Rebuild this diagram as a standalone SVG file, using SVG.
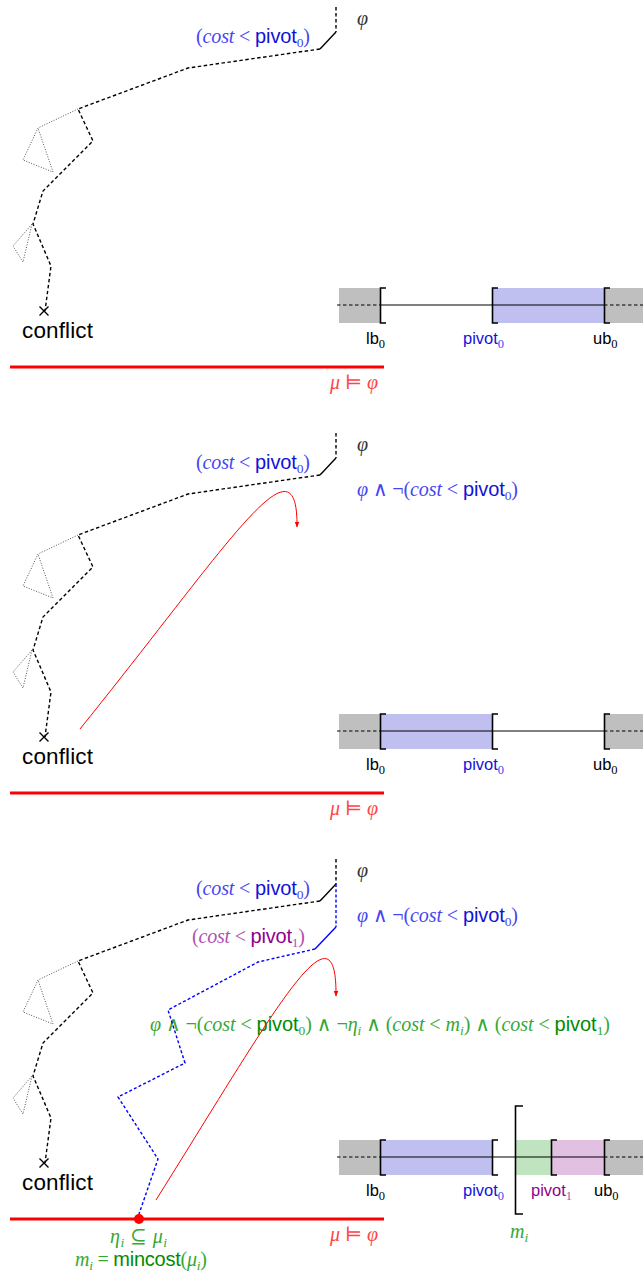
<svg xmlns="http://www.w3.org/2000/svg" xmlns:xlink="http://www.w3.org/1999/xlink" width="643" height="1275" viewBox="0 0 643 1275">
<style>
.dash{fill:none;stroke:#000;stroke-width:1.4;stroke-dasharray:3.5 2.5}
.solid{fill:none;stroke:#000;stroke-width:1.4}
.dot{fill:none;stroke:#555;stroke-width:1;stroke-dasharray:1 1.6}
.bdash{fill:none;stroke:#0000ff;stroke-width:1.4;stroke-dasharray:3 2.2}
.bsolid{fill:none;stroke:#0000ff;stroke-width:1.4}
.redl{stroke:#ff0000;stroke-width:3}
.redc{fill:none;stroke:#ff0000;stroke-width:1}
.br{fill:none;stroke:#000;stroke-width:1.6}
.axd{stroke:#000;stroke-width:1.2;stroke-dasharray:3.5 2.5}
.axs{stroke:#000;stroke-width:1.2}
.m{font-family:"Liberation Serif","DejaVu Serif",serif;font-style:italic}
.r{font-family:"Liberation Serif","DejaVu Serif","DejaVu Sans",serif;font-style:normal}
.s{font-family:"Liberation Sans","DejaVu Sans",sans-serif}
.f{font-size:20px}
.lab{font-size:16.5px}
.sub{font-size:13.5px}
.lsub{font-size:12.5px}
.bm{fill:#4545f2}.bs{fill:#1212d8}
.pm{fill:#b050b0}.ps{fill:#900090}
.gm{fill:#35a835}.gs{fill:#008c00}
.rm{fill:#ff4545}
.phi{fill:#333}
</style>
<defs>
<marker id="ah" viewBox="0 0 10 10" refX="9" refY="5" markerWidth="6" markerHeight="6" markerUnits="userSpaceOnUse" orient="auto">
<path d="M0,1 L10,5 L0,9 z" fill="#ff0000"/>
</marker>
<g id="search">
<path class="dash" d="M336,7 V32"/>
<path class="solid" d="M336,32 L320,49"/>
<path class="dash" d="M320,49 L188,68 L78,109 L93,141 L43,191 L33,224 L51,266 L45,311"/>
<path class="dot" d="M78,109 L38,128 L23,160 L53,172 L38,128"/>
<path class="dot" d="M32,224 L13,246 L23,262 Z"/>
<path class="solid" d="M39.5,306.5 L48.5,315.5 M48.5,306.5 L39.5,315.5"/>
<text x="22" y="338" class="s" font-size="22.5" textLength="71" lengthAdjust="spacing">conflict</text>
<text x="357" y="25" class="m f phi">φ</text>
<text x="196" y="43" class="f" textLength="114" lengthAdjust="spacing"><tspan class="r bm">(</tspan><tspan class="m bm">cost</tspan><tspan class="r bm"> &lt; </tspan><tspan class="s bs">pivot</tspan><tspan class="r bm sub" dy="4">0</tspan><tspan class="r bm" dy="-4">)</tspan></text>
<line class="redl" x1="10" y1="367" x2="384" y2="367"/>
<text x="330" y="389" class="f" textLength="48" lengthAdjust="spacing"><tspan class="m rm">μ</tspan><tspan class="r rm"> ⊨ </tspan><tspan class="m rm">φ</tspan></text>
</g>
</defs>

<g id="panel1">
<use xlink:href="#search"/>
<g id="interval1">
<rect x="339" y="288" width="41" height="35" fill="#bfbfbf"/>
<rect x="492" y="288" width="112" height="35" fill="#bfbff0"/>
<rect x="604" y="288" width="39" height="35" fill="#bfbfbf"/>
<line class="axd" x1="337" y1="305" x2="380" y2="305"/>
<line class="axs" x1="380" y1="305" x2="604" y2="305"/>
<line class="axd" x1="604" y1="305" x2="643" y2="305"/>
<path class="br" d="M386,288 H380.5 V323 H386 M498,288 H492.5 V323 H498 M610,288 H604.5 V323 H610"/>
<text x="366" y="344" class="lab"><tspan class="s">lb</tspan><tspan class="r lsub" dy="3.5">0</tspan></text>
<text x="463" y="344" class="lab"><tspan class="s bs">pivot</tspan><tspan class="r lsub bm" dy="3.5">0</tspan></text>
<text x="593" y="344" class="lab"><tspan class="s">ub</tspan><tspan class="r lsub" dy="3.5">0</tspan></text>
</g>
</g>

<g id="panel2">
<use xlink:href="#search" transform="translate(0,426)"/>
<text x="357" y="496" class="f" textLength="161" lengthAdjust="spacing"><tspan class="m bm">φ</tspan><tspan class="r bm"> ∧ ¬(</tspan><tspan class="m bm">cost</tspan><tspan class="r bm"> &lt; </tspan><tspan class="s bs">pivot</tspan><tspan class="r bm sub" dy="4">0</tspan><tspan class="r bm" dy="-4">)</tspan></text>
<g id="interval2">
<rect x="339" y="714" width="41" height="35" fill="#bfbfbf"/>
<rect x="380" y="714" width="112" height="35" fill="#bfbff0"/>
<rect x="604" y="714" width="39" height="35" fill="#bfbfbf"/>
<line class="axd" x1="337" y1="731" x2="380" y2="731"/>
<line class="axs" x1="380" y1="731" x2="604" y2="731"/>
<line class="axd" x1="604" y1="731" x2="643" y2="731"/>
<path class="br" d="M386,714 H380.5 V749 H386 M498,714 H492.5 V749 H498 M610,714 H604.5 V749 H610"/>
<text x="366" y="770" class="lab"><tspan class="s">lb</tspan><tspan class="r lsub" dy="3.5">0</tspan></text>
<text x="463" y="770" class="lab"><tspan class="s bs">pivot</tspan><tspan class="r lsub bm" dy="3.5">0</tspan></text>
<text x="593" y="770" class="lab"><tspan class="s">ub</tspan><tspan class="r lsub" dy="3.5">0</tspan></text>
</g>
</g>

<g id="panel3">
<use xlink:href="#search" transform="translate(0,852)"/>
<text x="357" y="922" class="f" textLength="161" lengthAdjust="spacing"><tspan class="m bm">φ</tspan><tspan class="r bm"> ∧ ¬(</tspan><tspan class="m bm">cost</tspan><tspan class="r bm"> &lt; </tspan><tspan class="s bs">pivot</tspan><tspan class="r bm sub" dy="4">0</tspan><tspan class="r bm" dy="-4">)</tspan></text>
<text x="192" y="943" class="f" textLength="113" lengthAdjust="spacing"><tspan class="r pm">(</tspan><tspan class="m pm">cost</tspan><tspan class="r pm"> &lt; </tspan><tspan class="s ps">pivot</tspan><tspan class="r pm sub" dy="4">1</tspan><tspan class="r pm" dy="-4">)</tspan></text>
<text x="150" y="1031" class="f" textLength="460" lengthAdjust="spacing"><tspan class="m gm">φ</tspan><tspan class="r gm"> ∧ ¬(</tspan><tspan class="m gm">cost</tspan><tspan class="r gm"> &lt; </tspan><tspan class="s gs">pivot</tspan><tspan class="r gm sub" dy="4">0</tspan><tspan class="r gm" dy="-4">) ∧ ¬</tspan><tspan class="m gm">η</tspan><tspan class="m gm sub" dy="4">i</tspan><tspan class="r gm" dy="-4"> ∧ (</tspan><tspan class="m gm">cost</tspan><tspan class="r gm"> &lt; </tspan><tspan class="m gm">m</tspan><tspan class="m gm sub" dy="4">i</tspan><tspan class="r gm" dy="-4">) ∧ (</tspan><tspan class="m gm">cost</tspan><tspan class="r gm"> &lt; </tspan><tspan class="s gs">pivot</tspan><tspan class="r gm sub" dy="4">1</tspan><tspan class="r gm" dy="-4">)</tspan></text>
<text x="110" y="1243" class="f" textLength="57" lengthAdjust="spacing"><tspan class="m gm">η</tspan><tspan class="m gm sub" dy="4">i</tspan><tspan class="r gm" dy="-4"> ⊆ </tspan><tspan class="m gm">μ</tspan><tspan class="m gm sub" dy="4">i</tspan></text>
<text x="75" y="1266" class="f" textLength="132" lengthAdjust="spacing"><tspan class="m gm">m</tspan><tspan class="m gm sub" dy="4">i</tspan><tspan class="r gm" dy="-4"> = </tspan><tspan class="s gs">mincost</tspan><tspan class="r gm">(</tspan><tspan class="m gm">μ</tspan><tspan class="m gm sub" dy="4">i</tspan><tspan class="r gm" dy="-4">)</tspan></text>
<g id="interval3">
<rect x="339" y="1140" width="41" height="35" fill="#bfbfbf"/>
<rect x="380" y="1140" width="112" height="35" fill="#bfbff0"/>
<rect x="516" y="1140" width="35" height="35" fill="#c0e4c0"/>
<rect x="551" y="1140" width="53" height="35" fill="#e2c0e2"/>
<rect x="604" y="1140" width="39" height="35" fill="#bfbfbf"/>
<line class="axd" x1="337" y1="1157" x2="380" y2="1157"/>
<line class="axs" x1="380" y1="1157" x2="604" y2="1157"/>
<line class="axd" x1="604" y1="1157" x2="643" y2="1157"/>
<path class="br" d="M386,1140 H380.5 V1175 H386 M498,1140 H492.5 V1175 H498 M557,1140 H551.5 V1175 H557 M610,1140 H604.5 V1175 H610"/>
<path class="br" d="M523,1106 H515.5 V1214 H523"/>
<text x="366" y="1196" class="lab"><tspan class="s">lb</tspan><tspan class="r lsub" dy="3.5">0</tspan></text>
<text x="463" y="1196" class="lab"><tspan class="s bs">pivot</tspan><tspan class="r lsub bm" dy="3.5">0</tspan></text>
<text x="531" y="1196" class="lab"><tspan class="s ps">pivot</tspan><tspan class="r lsub pm" dy="3.5">1</tspan></text>
<text x="594" y="1196" class="lab"><tspan class="s">ub</tspan><tspan class="r lsub" dy="3.5">0</tspan></text>
<text x="510" y="1238" class="f"><tspan class="m gm">m</tspan><tspan class="m gm sub" dy="4">i</tspan></text>
</g>
</g>

<g id="connectors">
<path class="redc" d="M80,729 C230,543 298,430 297,527" marker-end="url(#ah)"/>
<path class="bdash" d="M336,884 V927"/>
<path class="bsolid" d="M336,927 L315,949"/>
<path class="bdash" d="M315,949 L258,962 L168,1010 L185,1063 L118,1097 L158,1159 L139,1214"/>
<path class="redc" d="M156,1200 C275,1010 337,895 336,996" marker-end="url(#ah)"/>
<circle cx="139" cy="1219" r="5" fill="#ff0000"/>
</g>
</svg>
